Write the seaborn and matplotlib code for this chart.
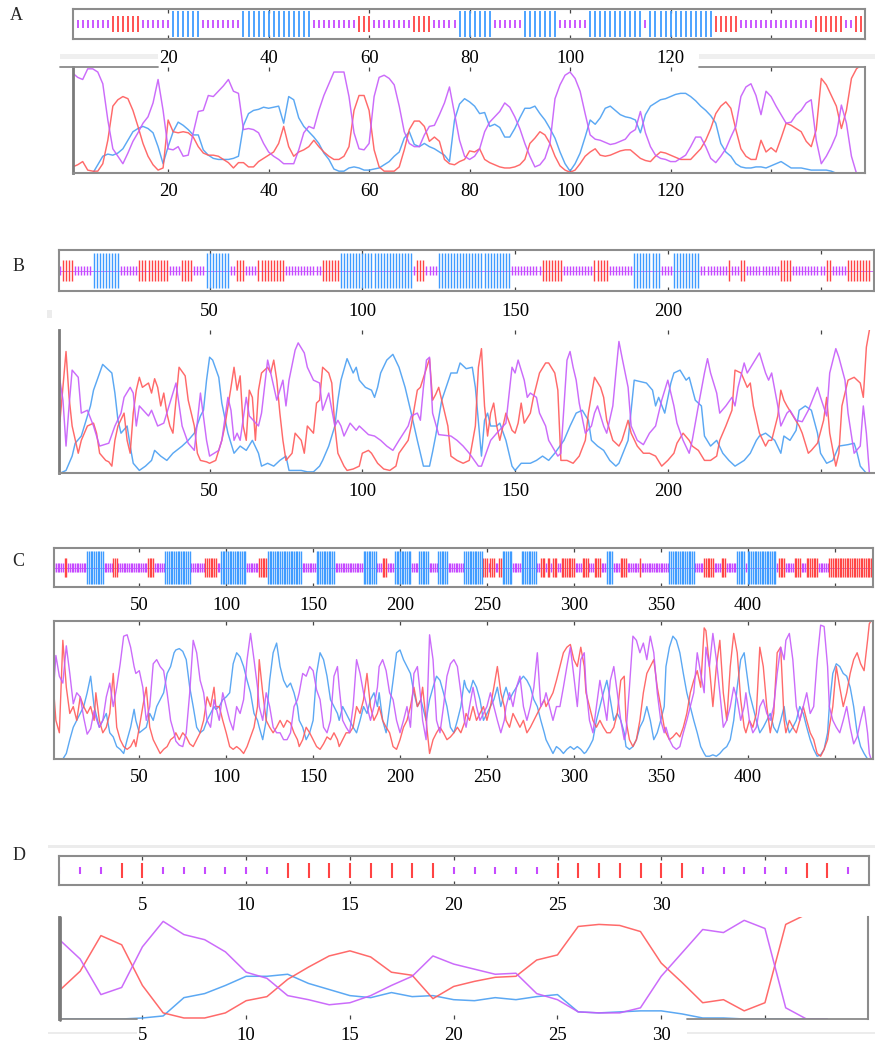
import numpy as np
import matplotlib
matplotlib.use("Agg")
import matplotlib.pyplot as plt
from matplotlib.patches import Rectangle
from matplotlib.lines import Line2D
import seaborn as sns

# ---------------- DATA ----------------
# Panel A (positions 1..158)
a_purple = [.94,.90,.88,.98,.98,.95,.84,.50,.23,.16,
            .09,.19,.30,.38,.47,.53,.66,.88,.59,.23,
            .22,.25,.16,.17,.38,.58,.59,.73,.72,.77,
            .82,.88,.77,.75,.41,.42,.41,.38,.28,.20,
            .16,.13,.09,.09,.09,.22,.38,.44,.42,.59,
            .73,.84,.95,.95,.95,.72,.38,.23,.22,.28,
            .72,.90,.92,.89,.83,.63,.39,.28,.25,.25,
            .36,.44,.45,.55,.66,.81,.56,.31,.16,.13,
            .16,.23,.39,.48,.53,.58,.66,.62,.53,.42,
            .28,.16,.06,.08,.14,.28,.70,.83,.92,.95,
            .89,.77,.56,.36,.32,.31,.29,.27,.28,.30,
            .32,.38,.41,.58,.38,.25,.17,.14,.13,.11,
            .11,.14,.17,.25,.34,.34,.25,.14,.10,.16,
            .23,.34,.44,.72,.81,.84,.73,.55,.77,.72,
            .63,.55,.47,.48,.55,.59,.66,.69,.31,.09,
            .16,.25,.36,.64,.47,.16,.00,.00]
a_red = [.06,.08,.11,.03,.02,.02,.09,.31,.63,.69,
         .72,.70,.59,.44,.28,.16,.08,.03,.05,.50,
         .39,.38,.39,.38,.34,.25,.19,.17,.17,.16,
         .13,.10,.05,.10,.10,.06,.06,.11,.14,.17,
         .20,.28,.44,.25,.16,.20,.22,.25,.31,.25,
         .20,.16,.13,.13,.16,.25,.59,.73,.73,.59,
         .22,.06,.02,.02,.02,.06,.22,.41,.49,.49,
         .44,.30,.34,.30,.13,.09,.08,.11,.13,.21,
         .20,.23,.13,.10,.08,.06,.05,.05,.06,.08,
         .13,.28,.33,.39,.36,.28,.16,.07,.03,.01,
         .03,.09,.16,.20,.23,.17,.16,.17,.19,.21,
         .22,.22,.18,.14,.12,.11,.16,.20,.19,.17,
         .15,.13,.13,.13,.18,.23,.31,.42,.56,.63,
         .67,.61,.41,.23,.16,.13,.13,.31,.20,.24,
         .20,.33,.47,.45,.42,.39,.30,.25,.41,.89,
         .83,.73,.63,.42,.59,.89,.98,1.02]
a_blue = [0,0,0,0,0,.08,.16,.18,.17,.19,
          .23,.31,.39,.42,.44,.42,.38,.25,.09,.25,
          .39,.48,.45,.41,.36,.36,.22,.17,.14,.13,
          .13,.13,.14,.16,.45,.56,.59,.60,.62,.61,
          .62,.63,.47,.72,.69,.52,.44,.39,.34,.28,
          .19,.13,.04,.02,.02,.05,.06,.05,.03,.03,
          .04,.05,.08,.11,.16,.20,.33,.39,.27,.25,
          .28,.25,.23,.20,.17,.11,.50,.65,.70,.67,
          .63,.56,.57,.44,.46,.43,.34,.34,.42,.52,
          .61,.61,.63,.56,.50,.42,.33,.20,.09,.02,
          .09,.19,.34,.50,.46,.52,.61,.63,.59,.55,
          .53,.52,.50,.38,.55,.63,.66,.69,.70,.72,
          .74,.75,.75,.72,.68,.63,.59,.54,.47,.28,
          .20,.16,.09,.06,.05,.05,.06,.06,.05,.07,
          .09,.11,.08,.05,.05,.05,.04,.03,.03,.03,
          .03,.02,0,0,0,0,0,0]
a_track = [("P",8),("R",6),("P",6),("B",6),("P",8),("B",14),("P",9),("R",3),("P",8),
           ("R",4),("P",5),("B",7),("P",6),("B",7),("P",6),("B",11),("P",1),("B",13),
           ("R",5),("P",15),("R",6),("P",2),("R",2)]

# Panel B (position, value) readings
b_red = [(1,.36),(3,.85),(4,.53),(5,.33),(7,.14),(8,.23),(10,.33),(12,.35),(13,.28),(14,.14),
         (16,.09),(17,.08),(18,.05),(19,.23),(20,.33),(22,.42),(23,.23),(24,.14),(25,.42),(26,.58),
         (27,.67),(28,.60),(30,.63),(31,.56),(32,.66),(33,.60),(34,.47),(35,.56),(36,.42),(37,.33),
         (38,.28),(39,.51),(40,.74),(42,.68),(43,.51),(45,.33),(46,.14),(47,.09),(49,.08),(50,.07),
         (52,.09),(54,.23),(55,.33),(57,.60),(58,.74),(59,.58),(60,.68),(61,.33),(62,.23),(63,.58),
         (64,.53),(65,.23),(66,.58),(67,.70),(69,.74),(70,.70),(71,.79),(72,.65),(73,.42),(74,.23),
         (75,.09),(77,.14),(78,.28),(80,.23),(81,.14),(82,.33),(84,.28),(85,.49),(86,.51),(87,.74),
         (89,.70),(90,.63),(91,.33),(92,.14),(94,.05),(95,.02),(97,.03),(99,.05),(100,.14),(102,.16),
         (103,.14),(105,.07),(107,.03),(109,.02),(111,.05),(112,.14),(115,.23),(116,.33),(118,.58),(119,.60),
         (122,.80),(123,.51),(124,.55),(125,.60),(126,.51),(127,.42),(128,.33),(129,.12),(131,.09),(133,.07),
         (135,.09),(137,.33),(138,.74),(139,.87),(140,.47),(141,.26),(142,.42),(143,.49),(144,.33),(145,.23),
         (147,.42),(149,.30),(150,.28),(151,.35),(152,.49),(153,.35),(155,.42),(156,.53),(158,.70),(160,.77),
         (161,.77),(163,.70),(164,.58),(165,.09),(167,.09),(169,.07),(171,.12),(173,.23),(174,.42),(176,.67),
         (178,.60),(179,.53),(180,.37),(182,.23),(184,.19),(185,.23),(187,.37),(188,.28),(190,.19),(192,.14),
         (194,.14),(196,.12),(198,.05),(200,.09),(202,.14),(203,.21),(205,.28),(207,.23),(208,.19),(210,.16),
         (212,.09),(214,.09),(216,.12),(217,.23),(219,.33),(221,.44),(222,.72),(224,.70),(226,.60),(227,.63),
         (228,.47),(230,.28),(232,.19),(233,.23),(234,.23),(236,.40),(237,.58),(238,.51),(239,.47),(241,.40),
         (243,.33),(244,.28),(246,.14),(247,.16),(249,.21),(251,.37),(252,.53),(253,.28),(255,.05),(256,.14),
         (257,.47),(259,.65),(261,.67),(263,.63),(264,.53),(265,.88),(266,1.0)]
b_purple = [(1,.65),(2,.51),(3,.19),(4,.47),(5,.72),(7,.67),(8,.42),(10,.44),(12,.33),(13,.26),
            (14,.19),(17,.21),(19,.33),(21,.42),(22,.53),(24,.60),(25,.56),(26,.33),(27,.47),(30,.40),
            (31,.44),(33,.33),(35,.35),(36,.42),(38,.56),(39,.63),(41,.33),(43,.21),(45,.16),(47,.56),
            (49,.23),(50,.12),(53,.16),(54,.23),(56,.53),(57,.44),(58,.23),(59,.28),(60,.23),(62,.53),
            (63,.40),(66,.33),(67,.42),(69,.79),(70,.70),(72,.51),(74,.65),(75,.47),(76,.65),(78,.86),
            (79,.91),(81,.84),(82,.74),(84,.65),(86,.63),(87,.44),(89,.56),(91,.33),(92,.37),(93,.33),
            (94,.26),(96,.35),(98,.30),(99,.33),(102,.27),(104,.26),(106,.23),(108,.19),(110,.16),(112,.23),
            (115,.33),(116,.40),(118,.42),(119,.37),(120,.60),(121,.79),(122,.81),(123,.42),(125,.27),(129,.26),
            (131,.23),(133,.19),(135,.14),(138,.05),(139,.05),(142,.23),(144,.28),(147,.35),(149,.74),(150,.70),
            (151,.79),(153,.65),(154,.53),(155,.56),(157,.53),(158,.42),(160,.33),(161,.23),(164,.12),(165,.14),
            (166,.47),(167,.79),(168,.85),(169,.74),(170,.65),(171,.49),(173,.28),(175,.33),(176,.42),(177,.47),
            (179,.33),(180,.28),(182,.47),(183,.70),(184,.92),(185,.81),(187,.60),(188,.33),(190,.23),(192,.20),
            (194,.28),(196,.33),(197,.42),(198,.51),(200,.65),(202,.47),(203,.35),(205,.23),(207,.14),(208,.23),
            (210,.47),(212,.70),(213,.80),(214,.70),(216,.56),(217,.42),(219,.47),(221,.53),(222,.47),(223,.60),
            (225,.77),(226,.70),(230,.84),(232,.70),(233,.65),(234,.70),(236,.47),(237,.33),(239,.42),(240,.44),
            (242,.37),(244,.36),(246,.44),(249,.60),(250,.53),(252,.40),(253,.70),(255,.87),(256,.81),(258,.65),
            (259,.42),(261,.14),(263,.19),(264,.47),(265,.28),(266,0.0)]
b_blue = [(1,0),(3,.02),(5,.12),(6,.21),(8,.26),(9,.33),(11,.47),(12,.58),(14,.70),(15,.76),
          (17,.72),(18,.70),(19,.56),(20,.37),(21,.28),(23,.33),(24,.19),(25,.07),(27,.02),(29,.05),
          (31,.09),(32,.16),(34,.12),(36,.09),(38,.14),(41,.19),(43,.23),(45,.28),(47,.40),(48,.44),
          (49,.65),(50,.81),(51,.79),(53,.67),(54,.49),(56,.28),(58,.14),(60,.19),(62,.16),(64,.23),
          (66,.14),(67,.05),(69,.07),(71,.05),(73,.09),(75,.12),(76,.02),(78,.02),(80,.02),(82,.01),
          (84,.01),(86,.05),(87,.09),(89,.19),(91,.33),(92,.51),(93,.65),(95,.80),(97,.70),(98,.74),
          (99,.65),(101,.60),(103,.58),(104,.53),(105,.60),(106,.70),(108,.79),(110,.83),(112,.74),(114,.60),
          (116,.42),(118,.23),(120,.05),(122,.05),(123,.15),(124,.26),(126,.51),(129,.70),(131,.70),(132,.77),
          (134,.73),(136,.74),(137,.60),(139,.12),(140,.37),(141,.42),(142,.33),(144,.33),(145,.35),(147,.23),
          (149,.05),(150,.02),(152,.07),(155,.07),(157,.09),(159,.12),(161,.09),(163,.14),(166,.23),(168,.33),
          (170,.42),(172,.44),(174,.37),(175,.23),(177,.19),(179,.16),(181,.09),(183,.05),(184,.07),(187,.23),
          (188,.44),(189,.65),(191,.64),(193,.63),(195,.58),(196,.47),(197,.53),(199,.42),(201,.63),(202,.70),
          (204,.72),(206,.65),(207,.67),(209,.51),(211,.47),(212,.26),(214,.19),(216,.23),(218,.14),(220,.09),
          (222,.05),(225,.09),(227,.14),(229,.23),(230,.26),(232,.28),(235,.23),(237,.14),(238,.26),(240,.23),
          (242,.30),(243,.44),(245,.47),(247,.44),(249,.28),(250,.14),(252,.07),(254,.09),(256,.19),(259,.20),
          (261,.21),(262,.14),(263,.05),(265,0.0),(266,0.0)]
b_track = [("P",1),("R",4),("P",6),("B",9),("P",6),("R",10),("P",4),("R",4),("P",4),("B",8),
           ("P",2),("R",3),("P",4),("R",9),("P",12),("R",6),("B",24),("P",1),("R",3),("P",4),
           ("B",24),("P",10),("R",7),("P",10),("R",5),("P",8),("B",9),("P",4),("B",9),("P",9),
           ("R",1),("P",3),("R",2),("P",11),("R",4),("P",11),("R",2),("P",5),("R",8)]

# Panel C (shared sample positions)
c_pos = [1,2,4,6,8,10,12,14,16,18,
         20,22,24,25,27,29,31,33,35,37,
         39,41,43,45,47,48,50,52,54,56,
         58,60,62,64,66,68,70,71,73,75,
         77,79,81,83,85,87,89,91,93,94,
         96,98,100,102,104,106,108,110,112,114,
         116,118,119,121,123,125,127,129,131,133,
         135,137,139,141,142,144,146,148,150,152,
         154,156,158,160,162,164,165,167,169,171,
         173,175,177,179,181,183,185,187,188,190,
         192,194,196,198,200,202,204,206,208,210,
         212,213,215,
         217,219,221,223,225,227,229,231,233,235,
         237,238,240,242,244,246,248,250,252,254,
         256,258,260,261,263,265,267,269,271,273,
         275,277,279,281,283,284,286,288,290,292,
         294,296,298,300,302,304,306,307,309,311,
         313,315,317,319,321,323,325,327,329,330,
         332,334,336,338,340,342,344,346,348,350,
         352,353,355,357,359,361,363,365,367,369,
         371,373,375,376,378,380,382,384,386,388,
         390,392,394,396,398,399,401,403,405,407,
         409,411,413,415,417,419,421,422,424,426,
         428,430,432,434,436,438,440,442,444,446,
         447,449,451,453,455,457,459,461,463,465,
         467,469,470,471]
c_purple = [.57,.75,.60,.55,.82,.62,.40,.48,.45,.30,
            .18,.22,.35,.30,.23,.28,.45,.55,.38,.52,
            .69,.89,.90,.81,.67,.62,.64,.52,.28,.38,
            .69,.72,.67,.64,.48,.28,.19,.13,.10,.09,
            .19,.48,.86,.77,.57,.48,.28,.23,.43,.38,
            .28,.48,.38,.28,.21,.38,.33,.43,.72,.91,
            .72,.52,.38,.28,.48,.38,.23,.19,.19,.14,
            .14,.19,.38,.43,.48,.62,.60,.67,.64,.50,
            .43,.23,.19,.28,.60,.67,.52,.28,.23,.19,
            .38,.72,.62,.48,.38,.28,.38,.52,.67,.72,
            .64,.48,.43,.28,.19,.28,.38,.23,.62,.67,
            .43,.28,.14,
            .90,.72,.28,.19,.38,.60,.69,.72,.67,.48,
            .28,.23,.38,.52,.38,.28,.33,.38,.48,.38,
            .28,.19,.28,.38,.48,.38,.52,.60,.38,.28,
            .38,.52,.77,.38,.43,.48,.38,.28,.38,.38,
            .52,.67,.81,.60,.38,.72,.77,.52,.28,.19,
            .38,.57,.43,.28,.57,.67,.48,.28,.14,.19,
            .52,.89,.86,.77,.84,.72,.89,.77,.48,.28,
            .19,.23,.14,.09,.07,.09,.19,.28,.38,.48,
            .77,.62,.48,.81,.67,.91,.72,.48,.23,.28,
            .38,.52,.43,.28,.38,.48,.28,.19,.23,.38,
            .43,.33,.28,.38,.62,.81,.72,.86,.91,.72,
            .38,.28,.38,.48,.33,.38,.72,.97,.96,.67,
            .38,.28,.23,.19,.28,.38,.23,.11,.16,.28,
            .38,.19,.04,.00]
c_red = [.45,.28,.19,.86,.52,.33,.38,.28,.45,.38,
         .33,.38,.28,.48,.28,.19,.23,.33,.62,.23,
         .14,.09,.07,.09,.14,.09,.23,.38,.52,.23,
         .14,.09,.04,.07,.09,.14,.16,.19,.14,.19,
         .16,.11,.09,.14,.19,.28,.45,.38,.52,.38,
         .38,.28,.19,.09,.07,.09,.07,.04,.09,.16,
         .23,.38,.72,.48,.28,.23,.19,.23,.28,.23,
         .28,.26,.19,.14,.09,.14,.23,.19,.14,.09,
         .07,.11,.16,.14,.19,.14,.09,.14,.19,.19,
         .23,.38,.33,.43,.62,.38,.28,.33,.38,.28,
         .23,.19,.09,.07,.14,.23,.28,.38,.52,.38,
         .43,.52,.28,
         .04,.14,.19,.23,.19,.14,.16,.19,.23,.19,
         .26,.33,.28,.38,.28,.33,.38,.28,.38,.52,
         .67,.48,.38,.28,.23,.33,.28,.23,.28,.19,
         .23,.28,.33,.38,.43,.38,.43,.48,.57,.67,
         .77,.81,.83,.72,.67,.81,.67,.48,.38,.28,
         .23,.28,.23,.19,.19,.23,.33,.57,.60,.28,
         .14,.09,.14,.28,.48,.62,.67,.72,.52,.38,
         .23,.19,.14,.16,.19,.16,.23,.33,.48,.57,
         .64,.52,.95,.93,.67,.38,.67,.86,.48,.28,
         .67,.91,.77,.43,.23,.19,.28,.23,.33,.81,
         .67,.38,.19,.33,.77,.81,.28,.19,.28,.23,
         .19,.28,.38,.28,.19,.14,.04,.02,.07,.14,
         .23,.38,.67,.52,.38,.48,.62,.72,.77,.69,
         .64,.86,.98,1.0]
c_blue = [.00,.00,.00,.00,.04,.14,.23,.28,.33,.38,
          .48,.60,.38,.33,.23,.28,.33,.19,.16,.09,
          .07,.04,.14,.23,.36,.28,.19,.21,.23,.33,
          .28,.38,.43,.48,.62,.67,.77,.79,.80,.78,
          .72,.52,.38,.23,.19,.21,.28,.33,.38,.36,
          .38,.43,.45,.48,.69,.77,.74,.67,.57,.48,
          .33,.28,.23,.14,.28,.57,.77,.84,.67,.57,
          .52,.55,.48,.38,.28,.23,.14,.19,.28,.62,
          .77,.72,.60,.43,.38,.33,.28,.38,.33,.28,
          .23,.19,.28,.38,.33,.43,.48,.38,.48,.28,
          .19,.38,.57,.77,.79,.72,.67,.62,.48,.38,
          .43,.38,.28,
          .43,.52,.60,.57,.48,.38,.23,.19,.28,.38,
          .57,.52,.48,.57,.52,.43,.28,.33,.38,.43,
          .52,.38,.48,.52,.43,.48,.52,.57,.60,.57,
          .52,.43,.38,.28,.19,.14,.09,.04,.09,.07,
          .04,.07,.09,.07,.09,.07,.04,.05,.09,.14,
          .28,.38,.48,.57,.43,.28,.33,.28,.19,.09,
          .07,.09,.14,.23,.28,.38,.28,.14,.19,.28,
          .38,.67,.81,.89,.86,.77,.62,.48,.38,.28,
          .19,.09,.04,.02,.02,.03,.02,.04,.07,.09,
          .14,.28,.52,.72,.77,.67,.48,.38,.28,.19,
          .23,.28,.33,.23,.19,.28,.38,.28,.19,.23,
          .28,.38,.33,.23,.14,.07,.02,.03,.07,.19,
          .38,.62,.69,.67,.62,.60,.52,.38,.19,.09,
          .04,.00,.00,.00]
c_track = [("P",6),("R",2),("P",11),("B",10),("P",5),("R",3),("P",17),("R",4),("P",6),("B",15),
           ("P",8),("R",7),("P",2),("B",15),("P",7),("R",5),("B",20),("P",8),("B",11),("P",16),
           ("B",8),("P",3),("R",3),("P",4),("B",10),("P",4),("B",6),("P",5),("B",6),("P",9),
           ("B",11),("R",3),("P",1),("R",3),("P",2),("R",2),("B",6),("P",5),("B",9),("P",2),
           ("R",3),("P",1),("R",2),("P",1),("R",3),("P",2),("R",8),("P",4),("R",4),("P",3),
           ("R",4),("P",3),("B",4),("P",4),("R",4),("P",7),("R",1),("P",16),("B",15),("P",5),
           ("R",6),("P",4),("R",3),("P",6),("B",5),("P",1),("B",17),("P",1),("R",4),("P",5),
           ("R",4),("P",3),("R",7),("P",6),("R",25)]

# Panel D (positions 1..38)
d_purple = [.78,.59,.24,.31,.71,.96,.83,.78,.66,.46,
            .40,.23,.19,.14,.16,.23,.33,.42,.62,.54,
            .49,.44,.45,.25,.19,.07,.06,.06,.11,.42,
            .65,.88,.85,.97,.89,.11,.00,.00]
d_red = [.28,.47,.82,.73,.33,.06,.01,.01,.06,.18,
         .22,.39,.51,.62,.67,.61,.46,.43,.20,.32,
         .37,.41,.42,.58,.63,.91,.93,.92,.86,.55,
         .36,.16,.19,.08,.16,.93,1.03,1.06]
d_blue = [0,0,0,0,.01,.03,.21,.25,.33,.42,
          .42,.44,.35,.29,.23,.21,.26,.22,.23,.19,
          .18,.21,.19,.22,.24,.07,.06,.07,.08,.08,
          .05,.01,.01,0,0,0,0,0]
d_track = [("P",3),("R",2),("P",6),("R",8),("P",5),("R",7),("P",5),("R",2),("P",1)]

# Tick values / labels
a_ticks = [20, 40, 60, 80, 100, 120, 140]
a_labels = ["20", "40", "60", "80", "100", "120", ""]
b_ticks = [50, 100, 150, 200, 250]
b_labels = ["50", "100", "150", "200", ""]
c_ticks = [50, 100, 150, 200, 250, 300, 350, 400, 450]
c_labels = ["50", "100", "150", "200", "250", "300", "350", "400", ""]
d_ticks = [5, 10, 15, 20, 25, 30, 35]
d_labels = ["5", "10", "15", "20", "25", "30", ""]
panel_letters = ["A", "B", "C", "D"]

# ---------------- STYLE ----------------
sns.set_style("white")
plt.rcParams["font.family"] = ["Liberation Serif", "DejaVu Serif"]

LINE_COL = {"R": "#ff5a5a", "B": "#4a9ff2", "P": "#c65cfa"}
TRACK_COL = {"R": "#ff4444", "B": "#3f9cff", "P": "#c64aff"}
HEIGHTS = {"P": (0.38, 0.62), "R": (0.24, 0.76), "B": (0.07, 0.93)}
SPINE = "#8c8c8c"
LEFT_SPINE = "#7a7a7a"

W, H = 875, 1043
fig = plt.figure(figsize=(W / 100, H / 100), dpi=100)


def px_axes(x0, y0, x1, y1):
    return fig.add_axes([x0 / W, 1 - y1 / H, (x1 - x0) / W, (y1 - y0) / H])


def style(ax, xlim, ticks, labels, spines, pad, top_ticks=True, strong_left=False):
    ax.set_xlim(*xlim)
    ax.set_ylim(0, 1)
    ax.set_xticks(ticks)
    ax.set_xticklabels(labels)
    ax.set_yticks([])
    ax.set_xlabel("")
    ax.set_ylabel("")
    ax.tick_params(axis="x", direction="in", length=3, width=0.9, color="#444444",
                   top=top_ticks, bottom=True, labelsize=13.5, pad=pad, labelcolor="black")
    for side in ["left", "right", "top", "bottom"]:
        sp = ax.spines[side]
        sp.set_visible(side in spines)
        sp.set_color(SPINE)
        sp.set_linewidth(1.5)
        sp.set_zorder(5)
    if strong_left:
        ax.spines["left"].set_color(LEFT_SPINE)
        ax.spines["left"].set_linewidth(2.0)


def draw_track(ax, runs, lw, midline):
    states = [s for s, n in runs for _ in range(n)]
    pos = np.arange(1, len(states) + 1)
    st_arr = np.array(states)
    if midline:
        ax.axhline(0.5, color=TRACK_COL["P"], lw=0.7, alpha=0.8, zorder=1)
    for st in ["P", "R", "B"]:
        m = st_arr == st
        lo, hi = HEIGHTS[st]
        ax.vlines(pos[m], lo, hi, colors=TRACK_COL[st], lw=lw, zorder=2)


def draw_lines(ax, series, lw=1.05):
    for key, xs, ys in series:
        sns.lineplot(x=list(xs), y=list(ys), ax=ax, color=LINE_COL[key], lw=lw,
                     estimator=None, errorbar=None, sort=False, alpha=0.9, legend=False)


def split(pairs):
    return [p for p, _ in pairs], [v for _, v in pairs]


# ---------------- PANEL A ----------------
axA1 = px_axes(73, 8.5, 865, 39.3)
draw_track(axA1, a_track, 1.3, False)
style(axA1, (1.07, 158.7), a_ticks, a_labels, ["left", "right", "top", "bottom"], 7.7)

axA2 = px_axes(73, 66.7, 865, 173.3)
nA = np.arange(1, len(a_red) + 1)
draw_lines(axA2, [("B", nA, a_blue), ("R", nA, a_red), ("P", nA, a_purple)])
style(axA2, (1.07, 158.7), a_ticks, a_labels, ["left", "right", "bottom"], 6.8, strong_left=True)

# ---------------- PANEL B ----------------
axB1 = px_axes(59, 250, 874, 291)
draw_track(axB1, b_track, 1.0, True)
style(axB1, (0.7, 267.5), b_ticks, b_labels, ["left", "right", "top", "bottom"], 8.9)

axB2 = px_axes(59, 330, 874, 473.3)
draw_lines(axB2, [("B",) + tuple(split(b_blue)), ("R",) + tuple(split(b_red)),
                  ("P",) + tuple(split(b_purple))])
style(axB2, (0.7, 267.5), b_ticks, b_labels, ["left", "bottom"], 7.2, strong_left=True)

# ---------------- PANEL C ----------------
axC1 = px_axes(54.3, 548.3, 873.3, 586.7)
draw_track(axC1, c_track, 1.0, True)
style(axC1, (1.09, 472.3), c_ticks, c_labels, ["left", "right", "top", "bottom"], 7.2)

axC2 = px_axes(54.3, 621, 873.3, 759)
draw_lines(axC2, [("B", c_pos, c_blue), ("R", c_pos, c_red), ("P", c_pos, c_purple)], lw=1.0)
style(axC2, (1.09, 472.3), c_ticks, c_labels, ["left", "right", "top", "bottom"], 7.2)

# ---------------- PANEL D ----------------
axD1 = px_axes(59, 856, 869, 885)
draw_track(axD1, d_track, 1.5, False)
style(axD1, (0.98, 40.0), d_ticks, d_labels, ["left", "right", "top", "bottom"], 8.4)

axD2 = px_axes(59, 917.3, 868.3, 1019)
nD = np.arange(1, len(d_red) + 1)
draw_lines(axD2, [("B", nD, d_blue), ("R", nD, d_red), ("P", nD, d_purple)], lw=1.1)
style(axD2, (0.98, 39.98), d_ticks, d_labels, ["left", "right"], 5.5, top_ticks=False,
      strong_left=True)

# ---------------- decorations (screenshot artefacts) ----------------
def frect(x0, y0, x1, y1, color):
    fig.add_artist(Rectangle((x0 / W, 1 - y1 / H), (x1 - x0) / W, (y1 - y0) / H,
                             transform=fig.transFigure, color=color, lw=0, zorder=0))


def fline(x0, x1, y, color, lw=1.3):
    fig.add_artist(Line2D([x0 / W, x1 / W], [1 - y / H, 1 - y / H],
                          transform=fig.transFigure, color=color, lw=lw))


def fvline(x, y0, y1, color, lw=2.0):
    fig.add_artist(Line2D([x / W, x / W], [1 - y0 / H, 1 - y1 / H],
                          transform=fig.transFigure, color=color, lw=lw, zorder=6))


frect(60, 53.5, 158, 59, "#efefef")
frect(699, 53.5, 875, 59, "#efefef")
fline(60, 158, 66.9, "#8a8a8a")
fline(699, 865, 66.9, "#8a8a8a")
frect(47, 310, 52, 318, "#ececec")
frect(48, 845, 875, 847.5, "#ececec")
frect(48, 1031.5, 137, 1033.5, "#ececec")
frect(687, 1031.5, 875, 1033.5, "#ececec")
fline(59, 137, 1019, "#8a8a8a")
fline(687, 868.3, 1019, "#8a8a8a")
fvline(59.5, 917.3, 1019.5, LEFT_SPINE)

# panel letters
for letter, (x, y) in zip(panel_letters, [(16.5, 15), (19, 266), (18.7, 561), (19, 855)]):
    fig.text(x / W, 1 - y / H, letter, ha="center", va="center", fontsize=13,
             family=["Liberation Serif", "DejaVu Serif"])

fig.savefig("out.png", dpi=100)
